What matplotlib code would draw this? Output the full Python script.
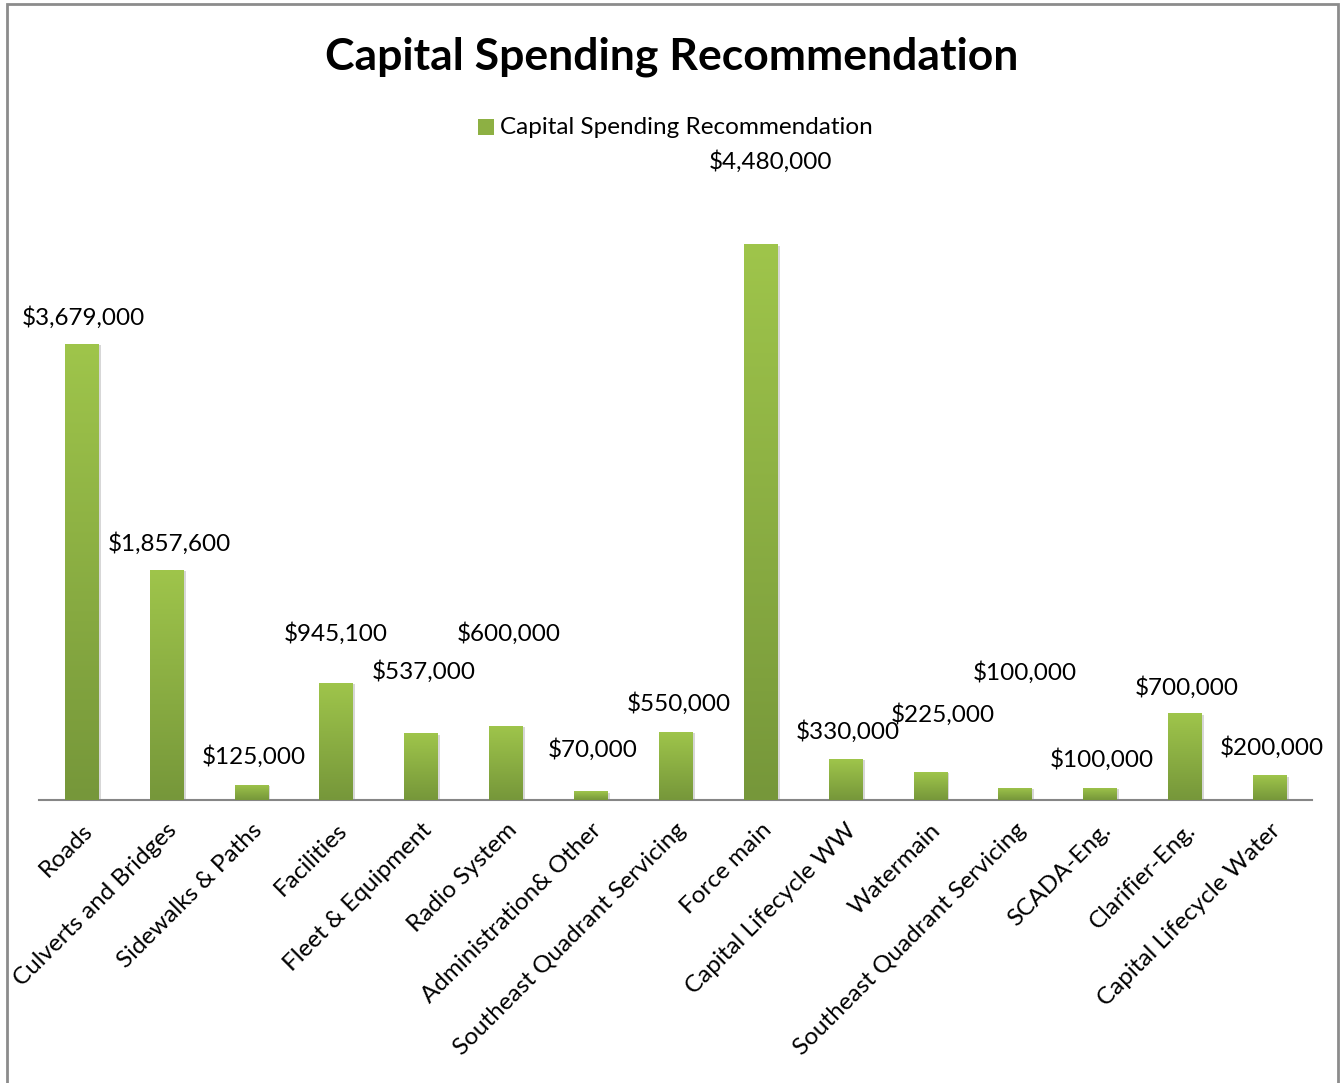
import numpy as np
import matplotlib.pyplot as plt
from matplotlib.colors import LinearSegmentedColormap
from matplotlib.patches import Rectangle
import matplotlib.patheffects as pe

plt.rcParams['font.family'] = ['Lato', 'DejaVu Sans']

categories = ['Roads', 'Culverts and Bridges', 'Sidewalks & Paths', 'Facilities',
              'Fleet & Equipment', 'Radio System', 'Administration& Other',
              'Southeast Quadrant Servicing', 'Force main', 'Capital Lifecycle WW',
              'Watermain', 'Southeast Quadrant Servicing', 'SCADA-Eng.',
              'Clarifier-Eng.', 'Capital Lifecycle Water']
values = [3679000, 1857600, 125000, 945100, 537000, 600000, 70000, 550000,
          4480000, 330000, 225000, 100000, 100000, 700000, 200000]

# data label offsets from the bar top (pixels)
label_dx = [2, 3, 3, 0, 3, 3, 2, 3, 10, 3, 13, 10, 2, 2, 2]
label_dy = [26, 26, 28, 49, 62, 92, 42, 28, 83, 28, 58, 115, 28, 26, 28]

fig = plt.figure(figsize=(13.44, 10.83), dpi=100)
ax = fig.add_axes([39/1344, 1 - 800/1083, (1312-39)/1344, (800-180)/1083])

x = np.arange(len(values))
width = 0.39
cmap = LinearSegmentedColormap.from_list('grn', ['#76973a', '#9fc54b'])
grad = np.linspace(0, 1, 256).reshape(-1, 1)

bars = ax.bar(x, values, width=width, color='#8db043', zorder=2,
              path_effects=[pe.SimplePatchShadow(offset=(2, -1), shadow_rgbFace='#b0b0b0', alpha=0.5),
                            pe.Normal()])
for b in bars:
    x0, y0 = b.get_x(), b.get_y()
    w, h = b.get_width(), b.get_height()
    im = ax.imshow(grad, cmap=cmap, origin='lower', aspect='auto',
                   extent=(x0, x0 + w, y0, y0 + h), zorder=3)
    im.set_clip_path(b)

for xi, v, dx, dy in zip(x, values, label_dx, label_dy):
    ax.annotate(f'${v:,}', (xi, v), xytext=(dx, dy), textcoords='offset pixels',
                ha='center', va='center', fontsize=17.5)

ax.set_xlim(-0.5, 14.5)
ax.set_ylim(0, 5000000)
ax.set_xticks(x)
ax.set_xticklabels(categories, rotation=45, ha='right', rotation_mode='anchor', fontsize=17.5)
ax.tick_params(axis='x', length=0, pad=14)
ax.set_yticks([])
for s in ['left', 'right', 'top']:
    ax.spines[s].set_visible(False)
ax.spines['bottom'].set_color('#868686')
ax.spines['bottom'].set_linewidth(1.5)

fig.text(0.5, 1 - 57/1083, 'Capital Spending Recommendation', ha='center', va='center',
         fontsize=32, fontweight='bold')

# legend
fig.patches.append(Rectangle((478/1344, 1 - 135/1083), 16/1344, 16/1083,
                             transform=fig.transFigure, facecolor='#8db043', edgecolor='none'))
fig.text(500/1344, 1 - 127/1083, 'Capital Spending Recommendation', ha='left', va='center',
         fontsize=17.5)

# chart border
fig.patches.append(Rectangle((7/1344, -0.01), (1338-7)/1344, 1.01 - 4/1083,
                             transform=fig.transFigure, fill=False, edgecolor='#8c8c8c', linewidth=2))

fig.savefig('out.png', dpi=100)
